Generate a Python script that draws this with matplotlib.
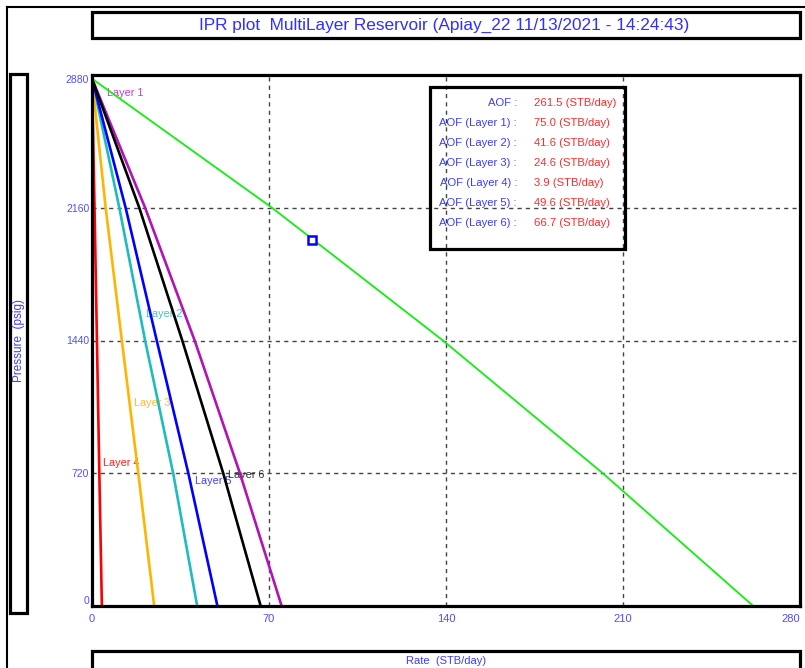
import matplotlib
matplotlib.use("Agg")
import matplotlib.pyplot as plt
from matplotlib.patches import Rectangle
from matplotlib.lines import Line2D

plt.rcParams['font.family'] = ['Liberation Sans', 'DejaVu Sans']

# ---------------- data ----------------
pressures = [2860, 2160, 1440, 720, 0]
layer1 = [0, 21.0, 40.6, 58.5, 75.0]
layer2 = [0, 10.8, 21.0, 32.1, 41.6]
layer3 = [0, 5.4, 11.8, 18.3, 24.6]
layer4 = [0, 1.0, 1.95, 2.9, 3.9]
layer5 = [0, 13.3, 25.6, 38.1, 49.6]
layer6 = [0, 18.7, 35.7, 51.9, 66.7]
total = [0, 71.2, 138.8, 202.0, 261.5]
op_rate = [87.0]
op_pressure = [1986]

x_ticks = [0, 70, 140, 210, 280]
y_ticks = [0, 720, 1440, 2160, 2880]

aof_labels = ["AOF :", "AOF (Layer 1) :", "AOF (Layer 2) :", "AOF (Layer 3) :",
              "AOF (Layer 4) :", "AOF (Layer 5) :", "AOF (Layer 6) :"]
aof_values = ["261.5 (STB/day)", "75.0 (STB/day)", "41.6 (STB/day)", "24.6 (STB/day)",
              "3.9 (STB/day)", "49.6 (STB/day)", "66.7 (STB/day)"]

layer_names = ["Layer 1", "Layer 2", "Layer 3", "Layer 4", "Layer 5", "Layer 6"]
layer_label_pos = [(5.9, 2783), (21.4, 1584), (16.6, 1101), (4.3, 776), (40.7, 678), (53.8, 711)]

# ---------------- figure ----------------
W, H = 805, 668
fig = plt.figure(figsize=(W / 100, H / 100), dpi=100)
fig.patch.set_facecolor('white')


def fx(x):
    return x / W


def fy(y):
    return 1 - y / H


def box(x0, y0, x1, y1, lw=2.3):
    fig.patches.append(Rectangle((fx(x0), fy(y1)), fx(x1) - fx(x0), fy(y0) - fy(y1),
                                 transform=fig.transFigure, fill=False,
                                 edgecolor='black', linewidth=lw, zorder=10))


# outer frame (top & left)
fig.lines.append(Line2D([fx(7), fx(805)], [fy(7), fy(7)], transform=fig.transFigure,
                        color='black', linewidth=1.5))
fig.lines.append(Line2D([fx(7), fx(7)], [fy(7), fy(668)], transform=fig.transFigure,
                        color='black', linewidth=1.5))

# title box
box(92, 12, 800, 38)
fig.text(fx(444), fy(25), "IPR plot  MultiLayer Reservoir (Apiay_22 11/13/2021 - 14:24:43)",
         ha='center', va='center', color='#2f2fff', fontsize=12.4)

# y label box
box(10, 74, 27, 613)
fig.text(fx(19), fy(340), "Pressure  (psig)", rotation=90, ha='center', va='center',
         color='#3c3cff', fontsize=8.5)

# x label box
box(92, 651, 800, 680)
fig.text(fx(446), fy(661), "Rate  (STB/day)", ha='center', va='center',
         color='#3c3cff', fontsize=8)

# ---------------- axes ----------------
ax = fig.add_axes([fx(92), fy(606), fx(800) - fx(92), fy(75) - fy(606)])
ax.set_xlim(0, 280)
ax.set_ylim(0, 2880)
ax.set_xticks(x_ticks)
ax.set_yticks(y_ticks)
ax.set_xticklabels([str(v) for v in x_ticks])
ax.set_yticklabels([str(v) for v in y_ticks])
ax.tick_params(length=0, labelcolor='#4f4fff')
ax.tick_params(axis='x', pad=6, labelsize=8)
ax.tick_params(axis='y', pad=2, labelsize=7.5)
ax.get_xticklabels()[-1].set_ha('right')
ax.get_yticklabels()[-1].set_va('top')
ax.get_yticklabels()[0].set_va('bottom')
for lbl in ax.get_yticklabels()[1:-1]:
    lbl.set_va('center_baseline')
for s in ax.spines.values():
    s.set_linewidth(2.3)
    s.set_color('black')
    s.set_zorder(6)
ax.grid(True, linestyle=(0, (3, 3)), color='#444444', linewidth=1.0)
ax.set_axisbelow(True)

colors = ['#b014b4', '#1ebcbc', '#ffb400', '#ff0000', '#0000ff', '#000000']
label_colors = ['#c040c4', '#40c4c4', '#ffb830', '#ff2020', '#4040ff', '#303030']
layers = [layer1, layer2, layer3, layer4, layer5, layer6]

for name, (lx, ly), c in zip(layer_names, layer_label_pos, label_colors):
    ax.text(lx, ly, name, color=c, fontsize=7.8, ha='left', va='center', zorder=2)

for vals, c in zip(layers, colors):
    ax.plot(vals, pressures, color=c, linewidth=1.9, zorder=4)

ax.plot(total, pressures, color='#11ee11', linewidth=1.3, zorder=4)
ax.plot(op_rate, op_pressure, marker='s', markersize=6, markerfacecolor='white',
        markeredgecolor='#0000ff', markeredgewidth=1.8, linestyle='none', zorder=5)

# AOF box
box(430, 87, 625, 249, lw=2.3)
for i, (lab, val) in enumerate(zip(aof_labels, aof_values)):
    y = 103 + 20 * i
    fig.text(fx(517), fy(y), lab, ha='right', va='center', color='#3c3cff', fontsize=8.1)
    fig.text(fx(534), fy(y), val, ha='left', va='center', color='#ff2a2a', fontsize=8.1)

fig.savefig("out.png", dpi=100)
